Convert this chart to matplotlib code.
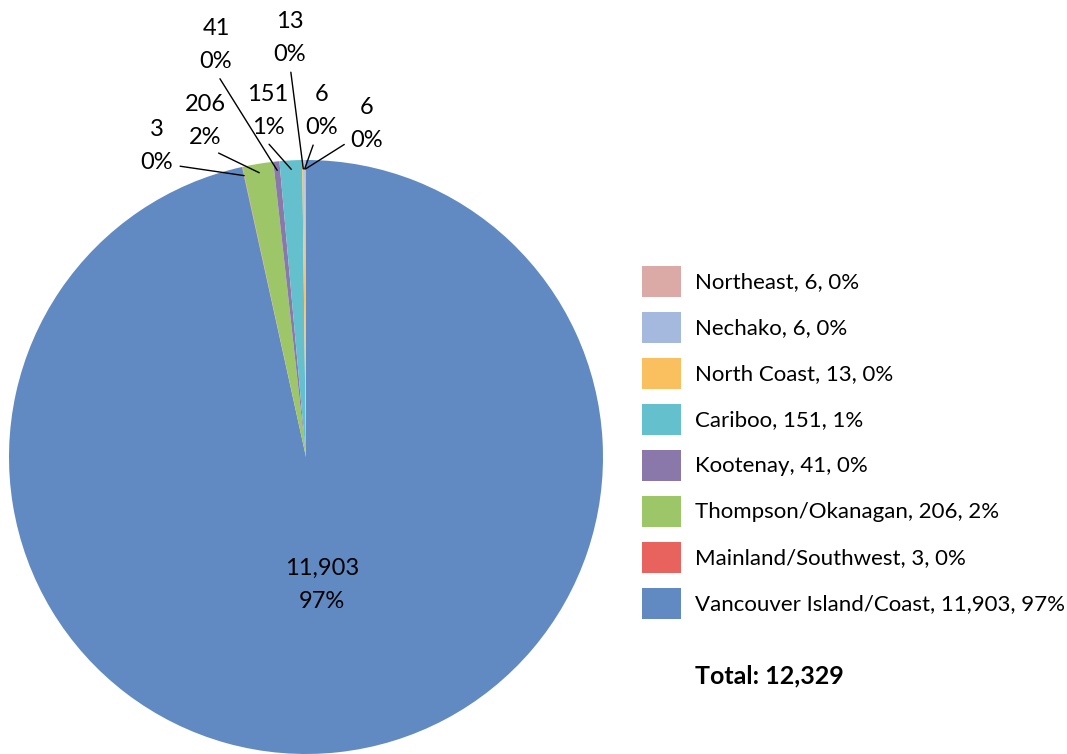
import numpy as np
import matplotlib.pyplot as plt
from matplotlib.patches import Rectangle

plt.rcParams['font.family'] = ['Lato', 'DejaVu Sans']

# data, in clockwise order from the top of the pie
regions = ['Vancouver Island/Coast', 'Mainland/Southwest', 'Thompson/Okanagan',
           'Kootenay', 'Cariboo', 'North Coast', 'Nechako', 'Northeast']
counts = [11903, 3, 206, 41, 151, 13, 6, 6]
pcts = ['97%', '0%', '2%', '0%', '1%', '0%', '0%', '0%']
colors = ['#618AC2', '#E8635D', '#9DC668', '#8B78AA', '#63C0CC',
          '#FAC060', '#A5B8DE', '#DBA9A6']
total = sum(counts)

# label text positions (axes data units, radius = 1)
label_pos = [(0.054, -0.431), (-0.502, 1.047), (-0.340, 1.131), (-0.303, 1.387),
             (-0.128, 1.165), (-0.054, 1.411), (0.054, 1.165), (0.205, 1.121)]
# where the leader line leaves the text box
line_from = [None, (1.0, 0.15), (0.6, 0.0), (0.5, 0.0), (0.4, 0.0),
             (0.5, 0.0), (0.3, 0.0), (0.0, 0.2)]

W, H = 1067, 754
fig = plt.figure(figsize=(W / 100, H / 100), dpi=100)
ax = fig.add_axes([9 / W, 0 / H, 594 / W, 594 / H])

wedges, _ = ax.pie(counts, colors=colors, startangle=90, counterclock=False,
                   radius=1, wedgeprops=dict(linewidth=0))
ax.set_xlim(-1, 1)
ax.set_ylim(-1, 1)
ax.set_aspect('equal')
ax.axis('off')

for i, w in enumerate(wedges):
    txt = f'{counts[i]:,}\n{pcts[i]}'
    if i == 0:
        ax.text(*label_pos[i], txt, ha='center', va='center', fontsize=17,
                linespacing=1.75)
        continue
    ang = np.deg2rad((w.theta1 + w.theta2) / 2)
    tip = (0.97 * np.cos(ang), 0.97 * np.sin(ang))
    ax.annotate(txt, xy=tip, xytext=label_pos[i], ha='center', va='center',
                fontsize=17, linespacing=1.75, annotation_clip=False,
                arrowprops=dict(arrowstyle='-', color='black', lw=1,
                                shrinkA=3, shrinkB=0, relpos=line_from[i]))

# legend, drawn by hand in figure pixels (Northeast at the top)
for k, i in enumerate(range(len(regions) - 1, -1, -1)):
    top = 266 + 46 * k
    fig.add_artist(Rectangle((642 / W, 1 - (top + 31) / H), 39 / W, 31 / H,
                             facecolor=colors[i], edgecolor='none',
                             transform=fig.transFigure))
    fig.text(695 / W, 1 - (top + 16) / H,
             f'{regions[i]}, {counts[i]:,}, {pcts[i]}',
             fontsize=16, ha='left', va='center')

fig.text(695 / W, 1 - 676 / H, f'Total: {total:,}', fontsize=18,
         fontweight='bold', ha='left', va='center')

fig.savefig('out.png', dpi=100)
